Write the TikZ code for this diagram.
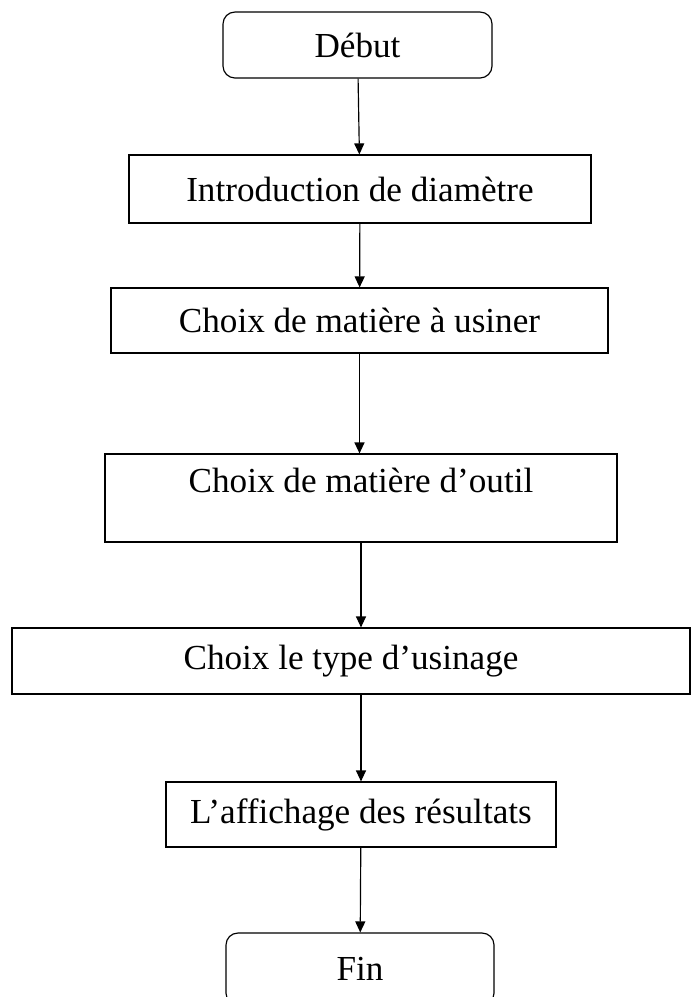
\documentclass[tikz,border=0pt]{standalone}
\usepackage{fontspec}
\setmainfont{Liberation Serif}
\usepackage{tikz}
\usetikzlibrary{positioning, arrows.meta}

\begin{document}
\begin{tikzpicture}[x=0.03cm, y=-0.03cm,
    every node/.style={font=\fontsize{30}{36}\selectfont},
    terminal/.style={draw, line width=1pt, rounded corners=0.36cm, inner sep=0pt},
    etape/.style={draw, line width=1pt, inner sep=0pt},
    fleche/.style={-{Triangle[length=0.33cm, width=0.3cm]}, line width=1pt}]
    \useasboundingbox (0,0) rectangle (696,997);

    % Start
    \node[terminal, minimum width=8.07cm, minimum height=1.98cm] (debut) at (357.5,45) {Début};

    % Steps
    \node[etape, minimum width=13.86cm, minimum height=2.04cm] (diametre) at (360,189) {Introduction de diamètre};
    \node[etape, minimum width=14.91cm, minimum height=1.95cm] (matiere) at (359.5,320.5) {Choix de matière à usiner};
    \node[etape, minimum width=15.36cm, text height=1.14cm, text depth=1.5cm] (outil) at (361,498) {Choix de matière d’outil};
    \node[etape, minimum width=20.34cm, minimum height=1.98cm] (usinage) at (351,661) {Choix le type d’usinage};
    \node[etape, minimum width=11.7cm, minimum height=1.95cm] (affichage) at (361,814.5) {L’affichage des résultats};

    % End
    \node[terminal, minimum width=8.04cm, minimum height=2.16cm] (fin) at (360,969) {Fin};

    % Arrows
    \draw[fleche] (debut) -- (diametre);
    \draw[fleche] (diametre) -- (matiere);
    \draw[fleche] (matiere) -- (outil.north -| matiere.south);
    \draw[fleche] (outil) -- (usinage.north -| outil.south);
    \draw[fleche] (usinage.south -| outil.south) -- (affichage);
    \draw[fleche] (affichage) -- (fin);
\end{tikzpicture}
\end{document}
